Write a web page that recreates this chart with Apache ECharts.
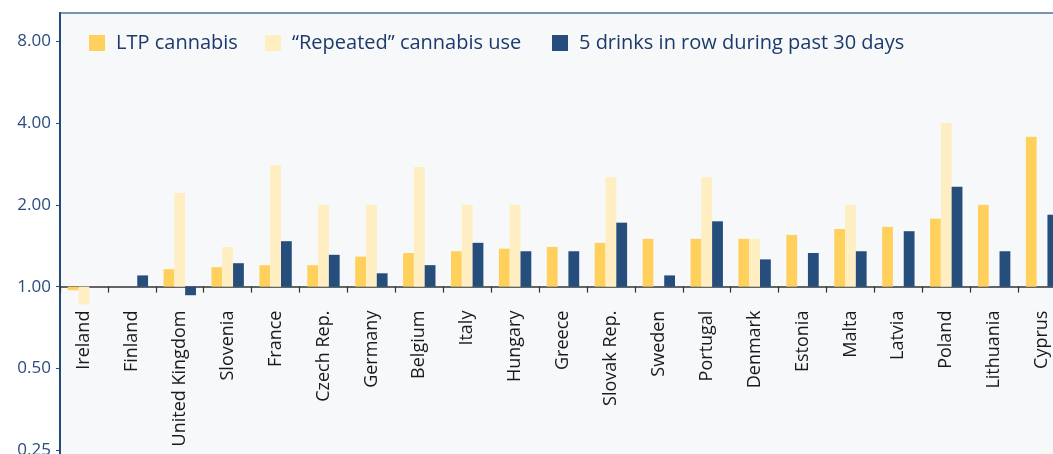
<!DOCTYPE html>
<html>
<head>
<meta charset="utf-8">
<script src="https://cdn.jsdelivr.net/npm/echarts@6/dist/echarts.min.js"></script>
<style>
html,body{margin:0;padding:0;background:#ffffff;}
#chart{width:1053px;height:454px;}
</style>
</head>
<body>
<div id="chart"></div>
<script>
var categories = ['Ireland','Finland','United Kingdom','Slovenia','France','Czech Rep.','Germany','Belgium','Italy','Hungary','Greece','Slovak Rep.','Sweden','Portugal','Denmark','Estonia','Malta','Latvia','Poland','Lithuania','Cyprus'];
var ltpCannabis = [0.97, 1.00, 1.16, 1.18, 1.20, 1.20, 1.29, 1.33, 1.35, 1.38, 1.40, 1.45, 1.50, 1.50, 1.50, 1.55, 1.63, 1.66, 1.78, 2.00, 3.56];
var repeatedCannabis = [0.86, null, 2.21, 1.40, 2.80, 2.00, 2.00, 2.76, 2.00, 2.00, null, 2.53, null, 2.53, 1.50, null, 2.00, null, 4.00, null, null];
var drinks5 = [null, 1.10, 0.93, 1.22, 1.47, 1.31, 1.12, 1.20, 1.45, 1.35, 1.35, 1.72, 1.10, 1.74, 1.26, 1.33, 1.35, 1.60, 2.33, 1.35, 1.84];
var seriesNames = ['LTP cannabis', '\u201cRepeated\u201d cannabis use', '5 drinks in row during past 30 days'];
var yTickLabels = ['0.25', '0.50', '1.00', '2.00', '4.00', '8.00'];

var FONT = '"Open Sans", Lato, sans-serif';
var chart = echarts.init(document.getElementById('chart'), null, {renderer: 'canvas'});

function legendAt(left, name) {
  return {
    left: left, top: 33, padding: 0, itemWidth: 16, itemHeight: 16, icon: 'rect',
    data: [name], selectedMode: false,
    textStyle: {color: '#1c3a6b', fontSize: 20, fontFamily: FONT, padding: [0, 0, 0, 6]}
  };
}

var option = {
  animation: false,
  backgroundColor: '#ffffff',
  legend: [legendAt(89, seriesNames[0]), legendAt(265, seriesNames[1]), legendAt(552, seriesNames[2])],
  grid: {left: 60, top: 13, width: 1006, height: 519, outerBoundsMode: 'none', containLabel: false,
         show: true, backgroundColor: '#f7f8fa', borderColor: '#7b92ad', borderWidth: 2},
  xAxis: {
    type: 'category', data: categories, position: 'bottom', offset: -245.4,
    axisLine: {show: true, lineStyle: {color: '#333333', width: 1.5}},
    axisTick: {show: true, length: 6, lineStyle: {color: '#333333', width: 1.2}},
    axisLabel: {rotate: 90, interval: 0, margin: 24, fontSize: 18, color: '#1a1a1a', fontFamily: FONT, hideOverlap: false},
    splitLine: {show: false}
  },
  yAxis: {
    type: 'log', logBase: 2, min: 0.125, max: 10.17,
    axisLine: {show: true, lineStyle: {color: '#234a7d', width: 2}},
    axisTick: {show: true, length: 4, lineStyle: {color: '#234a7d'}},
    axisLabel: {
      showMaxLabel: false, showMinLabel: false, margin: 9, fontSize: 17, color: '#2a4c7e', fontFamily: FONT,
      formatter: function (v) { var s = v.toFixed(2); return yTickLabels.indexOf(s) >= 0 ? s : ''; }
    },
    splitLine: {show: false}
  },
  series: [
    {name: seriesNames[0], type: 'bar', data: ltpCannabis, barWidth: 10.8, barGap: '0%', itemStyle: {color: '#ffd15c'}},
    {name: seriesNames[1], type: 'bar', data: repeatedCannabis, barWidth: 10.8, barGap: '0%', itemStyle: {color: '#ffeec2'}},
    {name: seriesNames[2], type: 'bar', data: drinks5, barWidth: 10.8, barGap: '0%', itemStyle: {color: '#254e7c'}}
  ]
};
chart.setOption(option);
</script>
</body>
</html>
